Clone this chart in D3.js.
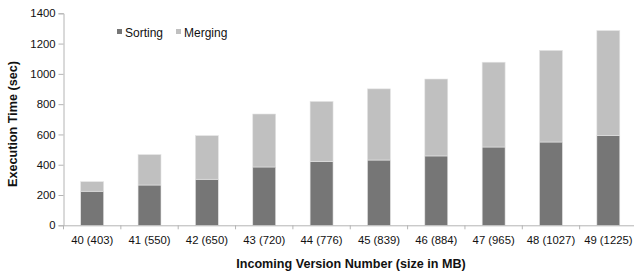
<!DOCTYPE html>
<html>
<head>
<meta charset="utf-8">
<script src="https://cdn.jsdelivr.net/npm/d3@7"></script>
<style>
  body { margin: 0; background: #fff; }
  text { font-family: "Liberation Sans", Arial, Helvetica, sans-serif; }
</style>
</head>
<body>
<div id="chart"></div>
<script>
var versions = ["40 (403)", "41 (550)", "42 (650)", "43 (720)", "44 (776)",
                "45 (839)", "46 (884)", "47 (965)", "48 (1027)", "49 (1225)"];
var sorting = [225, 266, 304, 385, 420, 431, 458, 517, 550, 594];
var merging = [63, 201, 288, 350, 398, 470, 508, 560, 605, 692];
var yTicks = [0, 200, 400, 600, 800, 1000, 1200, 1400];

var width = 634,
    height = 274,
    plotLeft = 63.5,
    plotRight = 637,
    plotTop = 13.3,
    plotBottom = 225.3;

var svg = d3.select("#chart")
  .append("svg")
  .attr("width", width)
  .attr("height", height);

var x = d3.scaleBand().domain(versions).range([plotLeft, plotRight])
  .paddingInner(0.6).paddingOuter(0.3);
var y = d3.scaleLinear().domain([0, 1400]).range([plotBottom, plotTop]);

var axisColor = "#b4b4b4";

// stacked bars
var rows = versions.map(function(v, i) {
  return {version: v, sorting: sorting[i], merging: merging[i]};
});
var stack = d3.stack().keys(["sorting", "merging"])(rows);
var colors = {sorting: "#767676", merging: "#c0c0c0"};

svg.selectAll("g.series")
  .data(stack)
  .enter()
  .append("g")
  .attr("fill", d => colors[d.key])
  .selectAll("rect")
  .data(d => d)
  .enter()
  .append("rect")
  .attr("x", d => x(d.data.version))
  .attr("y", d => y(d[1]))
  .attr("width", x.bandwidth())
  .attr("height", d => y(d[0]) - y(d[1]))
  .attr("stroke", "#e4e4e4")
  .attr("stroke-width", 0.6);

// y axis
var yAxis = svg.append("g")
  .attr("transform", "translate(" + plotLeft + ",0)")
  .call(d3.axisLeft(y).tickValues(yTicks).tickSize(5).tickPadding(3).tickFormat(d3.format("d")));
yAxis.select(".domain").attr("stroke", axisColor);
yAxis.selectAll(".tick line").attr("stroke", axisColor);
yAxis.selectAll("text").attr("fill", "#111").style("font-size", "11.3px");

// x axis
var xAxis = svg.append("g")
  .attr("transform", "translate(0," + plotBottom + ")")
  .call(d3.axisBottom(x).tickSize(0).tickPadding(11));
xAxis.select(".domain").attr("stroke", axisColor);
xAxis.selectAll("text").attr("fill", "#111").style("font-size", "11.3px");

// separators between categories
var bounds = versions.map(d => x(d) - x.step() * x.paddingOuter());
bounds.push(plotRight);
svg.append("g")
  .selectAll("line")
  .data(bounds)
  .enter()
  .append("line")
  .attr("x1", d => d).attr("x2", d => d)
  .attr("y1", plotBottom).attr("y2", plotBottom + 4)
  .attr("stroke", axisColor);

// axis titles
svg.append("text")
  .attr("x", 351)
  .attr("y", 268)
  .attr("text-anchor", "middle")
  .style("font-size", "12.6px")
  .style("font-weight", "bold")
  .attr("fill", "#111")
  .text("Incoming Version Number (size in MB)");

svg.append("text")
  .attr("transform", "translate(17,124) rotate(-90)")
  .attr("text-anchor", "middle")
  .style("font-size", "12.6px")
  .style("font-weight", "bold")
  .attr("fill", "#111")
  .text("Execution Time (sec)");

// legend
var legend = [{key: "sorting", label: "Sorting", x: 117},
              {key: "merging", label: "Merging", x: 176}];
var lg = svg.append("g").selectAll("g")
  .data(legend)
  .enter()
  .append("g")
  .attr("transform", d => "translate(" + d.x + ",29)");
lg.append("rect")
  .attr("width", 5).attr("height", 5)
  .attr("fill", d => colors[d.key]);
lg.append("text")
  .attr("x", 8).attr("y", 8)
  .style("font-size", "12px")
  .attr("fill", "#111")
  .text(d => d.label);
</script>
</body>
</html>
